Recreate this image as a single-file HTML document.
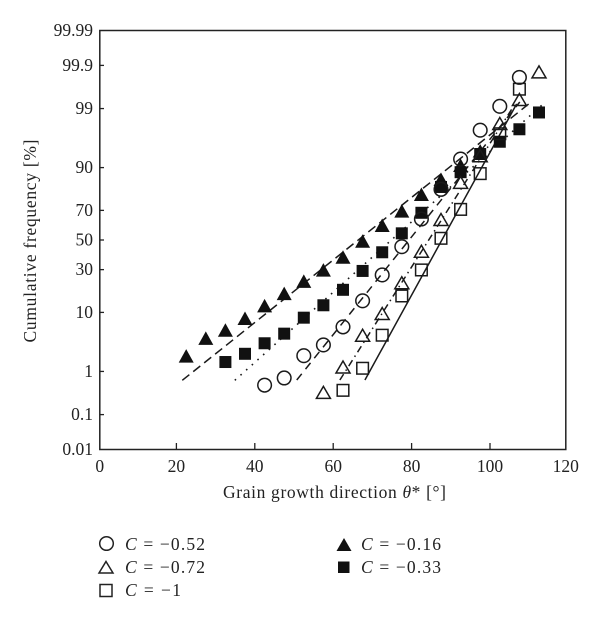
<!DOCTYPE html>
<html>
<head>
<meta charset="utf-8">
<style>
html,body{margin:0;padding:0;background:#fff;}
svg{display:block;}
text{font-family:"Liberation Serif",serif;fill:#222;font-size:17.5px;}
</style>
</head>
<body>
<svg id="chart" xmlns="http://www.w3.org/2000/svg" width="600" height="633" viewBox="0 0 600 633">
<rect x="99.8" y="30.5" width="466" height="419" fill="none" stroke="#222" stroke-width="1.5"/>
<g id="ticks"></g>
<g id="lines"></g>
<g id="marks"></g>
<text transform="translate(36,241) rotate(-90)" text-anchor="middle" textLength="203" lengthAdjust="spacing">Cumulative frequency [%]</text>
<text x="223" y="498" textLength="223" lengthAdjust="spacing">Grain growth direction <tspan font-style="italic">θ</tspan>* [°]</text>
<g>
<circle cx="106.5" cy="543.5" r="6.8" fill="none" stroke="#222" stroke-width="1.5"/>
<text x="125" y="550" textLength="80" lengthAdjust="spacing"><tspan font-style="italic">C</tspan> = −0.52</text>
<polygon points="106,561.5 113,573 99,573" fill="none" stroke="#222" stroke-width="1.5"/>
<text x="125" y="573" textLength="80" lengthAdjust="spacing"><tspan font-style="italic">C</tspan> = −0.72</text>
<rect x="100" y="584.5" width="12" height="12" fill="none" stroke="#222" stroke-width="1.5"/>
<text x="125" y="596" textLength="56" lengthAdjust="spacing"><tspan font-style="italic">C</tspan> = −1</text>
<polygon points="344,538 351.5,551 336.5,551" fill="#111"/>
<text x="361" y="550" textLength="80" lengthAdjust="spacing"><tspan font-style="italic">C</tspan> = −0.16</text>
<rect x="338" y="561.5" width="11.5" height="11.5" fill="#111"/>
<text x="361" y="573" textLength="80" lengthAdjust="spacing"><tspan font-style="italic">C</tspan> = −0.33</text>
</g>
</svg>
<script>
var xTicks = [0, 20, 40, 60, 80, 100, 120];
var yTicks = [0.01, 0.1, 1, 10, 30, 50, 70, 90, 99, 99.9, 99.99];

var filledTriX = [22.5,27.5,32.5,37.5,42.5,47.5,52.5,57.5,62.5,67.5,72.5,77.5,82.5,87.5,92.5,97.5];
var filledTriPct = [1.95,4.0,5.42,8.1,12.0,16.9,22.9,29.4,37.7,48.8,59.8,69.2,78.7,85.6,90.5,94.1];

var filledSqX = [32.5,37.5,42.5,47.5,52.5,57.5,62.5,67.5,72.5,77.5,82.5,87.5,92.5,97.5,102.5,107.5,112.5];
var filledSqPct = [1.54,2.2,3.38,4.87,8.46,12.4,18.9,29.2,41.4,54.7,68.5,82.6,88.5,93.6,95.9,97.5,98.8];

var circleX = [42.5,47.5,52.5,57.5,62.5,67.5,72.5,77.5,82.5,87.5,92.5,97.5,102.5,107.5];
var circlePct = [0.51,0.73,2.03,3.16,6.2,14.1,26.8,45.3,64.5,81.5,92.4,97.4,99.1,99.8];

var openTriX = [57.5,62.5,67.5,72.5,77.5,82.5,87.5,92.5,97.5,102.5,107.5,112.5];
var openTriPct = [0.34,1.2,4.5,9.5,22.2,41.8,63.8,84.4,93.1,98.0,99.34,99.85];

var openSqX = [62.5,67.5,72.5,77.5,82.5,87.5,92.5,97.5,102.5,107.5];
var openSqPct = [0.39,1.16,4.6,16.1,29.8,51.2,70.6,88.0,97.0,99.62];

var dashedLineX = [21.5,110.6];
var dashedLinePct = [0.65,99.28];
var circleLineX = [50.7,107.6];
var circleLinePct = [0.66,99.27];
var dottedLineX = [34.9,114.2];
var dottedLinePct = [0.65,99.28];
var dashDotLineX = [61.7,106.4];
var dashDotLinePct = [0.66,99.2];
var solidLineX = [68.1,106.8];
var solidLinePct = [0.66,99.2];

var NS = 'http://www.w3.org/2000/svg';
var INK = '#1a1a1a';

function probit(p) {
  var a = [-39.69683028665376,220.9460984245205,-275.9285104469687,138.357751867269,-30.66479806614716,2.506628277459239];
  var b = [-54.47609879822406,161.5858368580409,-155.6989798598866,66.80131188771972,-13.28068155288572];
  var c = [-0.007784894002430293,-0.3223964580411365,-2.400758277161838,-2.549732539343734,4.374664141464968,2.938163982698783];
  var d = [0.007784695709041462,0.3224671290700398,2.445134137142996,3.754408661907416];
  var q, r;
  if (p < 0.02425) {
    q = Math.sqrt(-2 * Math.log(p));
    return (((((c[0]*q+c[1])*q+c[2])*q+c[3])*q+c[4])*q+c[5]) / ((((d[0]*q+d[1])*q+d[2])*q+d[3])*q+1);
  }
  if (p > 1 - 0.02425) {
    q = Math.sqrt(-2 * Math.log(1 - p));
    return -(((((c[0]*q+c[1])*q+c[2])*q+c[3])*q+c[4])*q+c[5]) / ((((d[0]*q+d[1])*q+d[2])*q+d[3])*q+1);
  }
  q = p - 0.5;
  r = q * q;
  return (((((a[0]*r+a[1])*r+a[2])*r+a[3])*r+a[4])*r+a[5])*q / (((((b[0]*r+b[1])*r+b[2])*r+b[3])*r+b[4])*r+1);
}
function sx(v) { return 98 + 3.92 * v; }
function sy(pct) { return 240 - 56.5 * probit(pct / 100); }
function frameX(v) { return Math.max(99.8, Math.min(565.8, sx(v))); }
function frameY(p) { return Math.max(30.5, Math.min(449.5, sy(p))); }
function make(tag, attrs, parent) {
  var el = document.createElementNS(NS, tag);
  for (var k in attrs) { el.setAttribute(k, attrs[k]); }
  parent.appendChild(el);
  return el;
}

var tickGroup = document.getElementById('ticks');
xTicks.forEach(function (t) {
  var x = frameX(t);
  if (t > 0 && t < 120) {
    var tk = make('line', {x1: x, x2: x, y1: 449.5, y2: 443, stroke: '#222', 'stroke-width': 1.3}, tickGroup);
    
    
  }
  var lb = make('text', {x: x, y: 472, 'text-anchor': 'middle'}, tickGroup);
  
  
  lb.textContent = String(t);
});
yTicks.forEach(function (t) {
  var y = frameY(t);
  if (t > 0.01 && t < 99.99) {
    var tk = make('line', {x1: 99.8, x2: 104, y1: y, y2: y, stroke: '#222', 'stroke-width': 1.3}, tickGroup);
    
    
  }
  var lb = make('text', {x: 93, y: y + 5.5, 'text-anchor': 'end'}, tickGroup);
  
  
  lb.textContent = String(t);
});

var lineGroup = document.getElementById('lines');
function drawLine(xs, ps, dash, name, width) {
  var attrs = {x1: sx(xs[0]), y1: sy(ps[0]), x2: sx(xs[1]), y2: sy(ps[1]), stroke: INK, 'stroke-width': width};
  if (dash) { attrs['stroke-dasharray'] = dash; }
  var el = make('line', attrs, lineGroup);
  
  
}
drawLine(dashedLineX, dashedLinePct, '9 5', 'fit-line-c-016', 1.5);
drawLine(dottedLineX, dottedLinePct, '1.6 6', 'fit-line-c-033', 1.6);
drawLine(circleLineX, circleLinePct, '8 6', 'fit-line-c-052', 1.5);
drawLine(dashDotLineX, dashDotLinePct, '7 4 1.5 4', 'fit-line-c-072', 1.5);
drawLine(solidLineX, solidLinePct, null, 'fit-line-c-1', 1.5);

var markGroup = document.getElementById('marks');
function drawFilledTri(x, y) {
  var el = make('polygon', {points: x + ',' + (y - 7.5) + ' ' + (x + 7.5) + ',' + (y + 6) + ' ' + (x - 7.5) + ',' + (y + 6), fill: '#111'}, markGroup);
  
  
}
function drawFilledSq(x, y) {
  var el = make('rect', {x: x - 6, y: y - 6, width: 12, height: 12, fill: '#111'}, markGroup);
  
  
}
function drawCircle(x, y) {
  var el = make('circle', {cx: x, cy: y, r: 6.8, fill: 'none', stroke: INK, 'stroke-width': 1.5}, markGroup);
  
  
}
function drawOpenTri(x, y) {
  var el = make('polygon', {points: x + ',' + (y - 6.5) + ' ' + (x + 7) + ',' + (y + 5.5) + ' ' + (x - 7) + ',' + (y + 5.5), fill: 'none', stroke: INK, 'stroke-width': 1.5}, markGroup);
  
  
}
function drawOpenSq(x, y) {
  var el = make('rect', {x: x - 5.8, y: y - 5.8, width: 11.6, height: 11.6, fill: 'none', stroke: INK, 'stroke-width': 1.5}, markGroup);
  
  
}
function series(xs, ps, fn) {
  xs.forEach(function (v, i) { fn(sx(v), sy(ps[i])); });
}
series(filledTriX, filledTriPct, drawFilledTri);
series(filledSqX, filledSqPct, drawFilledSq);
series(circleX, circlePct, drawCircle);
series(openTriX, openTriPct, drawOpenTri);
series(openSqX, openSqPct, drawOpenSq);
</script>
</body>
</html>
